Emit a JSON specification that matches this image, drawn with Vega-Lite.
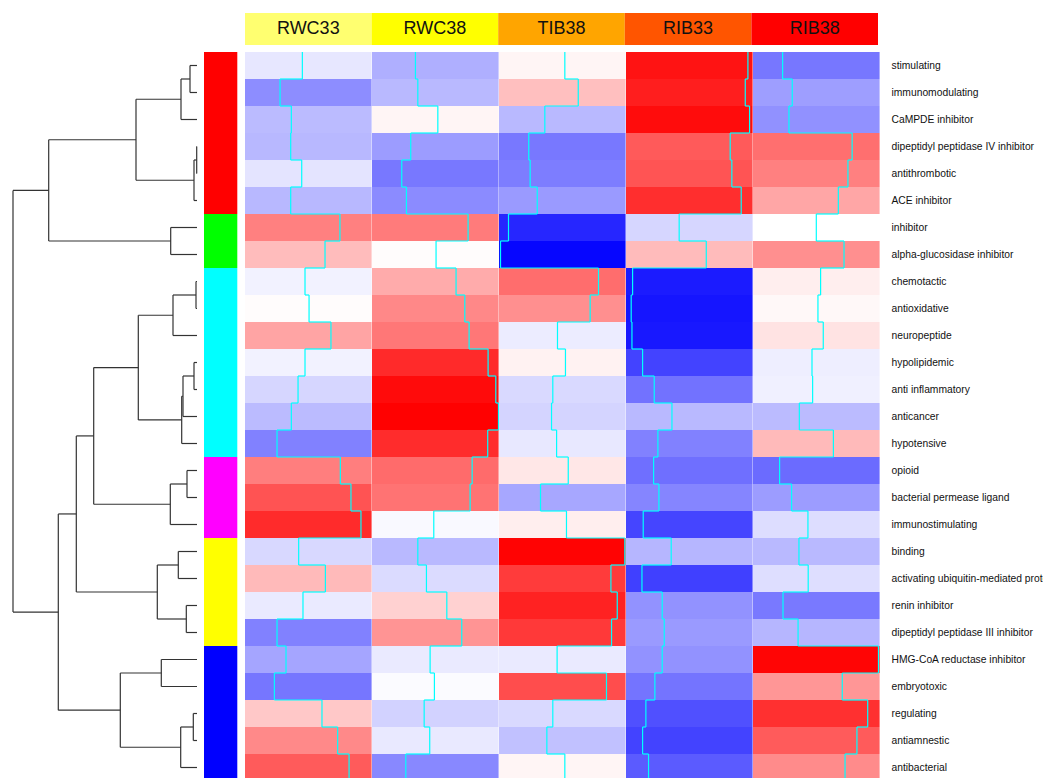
{
  "$schema": "https://vega.github.io/schema/vega-lite/v6.json",
  "padding": {"left": 0, "top": 13, "right": 0, "bottom": 0},
  "config": {"view": {"stroke": null}, "font": "Liberation Sans"},
  "datasets": {
    "peps": [
      {"r": 0, "p": "stimulating", "g": "C1", "RWC33": 0.453, "RWC38": 0.343, "TIB38": 0.52, "RIB33": 0.963, "RIB38": 0.234},
      {"r": 1, "p": "immunomodulating", "g": "C1", "RWC33": 0.277, "RWC38": 0.362, "TIB38": 0.626, "RIB33": 0.942, "RIB38": 0.31},
      {"r": 2, "p": "CaMPDE inhibitor", "g": "C1", "RWC33": 0.366, "RWC38": 0.52, "TIB38": 0.362, "RIB33": 0.976, "RIB38": 0.284},
      {"r": 3, "p": "dipeptidyl peptidase IV inhibitor", "g": "C1", "RWC33": 0.361, "RWC38": 0.306, "TIB38": 0.235, "RIB33": 0.823, "RIB38": 0.783},
      {"r": 4, "p": "antithrombotic", "g": "C1", "RWC33": 0.448, "RWC38": 0.235, "TIB38": 0.246, "RIB33": 0.836, "RIB38": 0.75},
      {"r": 5, "p": "ACE inhibitor", "g": "C1", "RWC33": 0.361, "RWC38": 0.272, "TIB38": 0.302, "RIB33": 0.91, "RIB38": 0.674},
      {"r": 6, "p": "inhibitor", "g": "C2", "RWC33": 0.75, "RWC38": 0.759, "TIB38": 0.075, "RIB33": 0.42, "RIB38": 0.5},
      {"r": 7, "p": "alpha-glucosidase inhibitor", "g": "C2", "RWC33": 0.632, "RWC38": 0.506, "TIB38": 0.012, "RIB33": 0.634, "RIB38": 0.719},
      {"r": 8, "p": "chemotactic", "g": "C3", "RWC33": 0.474, "RWC38": 0.664, "TIB38": 0.786, "RIB33": 0.052, "RIB38": 0.534},
      {"r": 9, "p": "antioxidative", "g": "C3", "RWC33": 0.506, "RWC38": 0.733, "TIB38": 0.72, "RIB33": 0.041, "RIB38": 0.513},
      {"r": 10, "p": "neuropeptide", "g": "C3", "RWC33": 0.679, "RWC38": 0.767, "TIB38": 0.462, "RIB33": 0.047, "RIB38": 0.555},
      {"r": 11, "p": "hypolipidemic", "g": "C3", "RWC33": 0.474, "RWC38": 0.917, "TIB38": 0.525, "RIB33": 0.131, "RIB38": 0.466},
      {"r": 12, "p": "anti inflammatory", "g": "C3", "RWC33": 0.419, "RWC38": 0.978, "TIB38": 0.425, "RIB33": 0.223, "RIB38": 0.471},
      {"r": 13, "p": "anticancer", "g": "C3", "RWC33": 0.366, "RWC38": 0.999, "TIB38": 0.415, "RIB33": 0.363, "RIB38": 0.366},
      {"r": 14, "p": "hypotensive", "g": "C3", "RWC33": 0.253, "RWC38": 0.914, "TIB38": 0.455, "RIB33": 0.252, "RIB38": 0.635},
      {"r": 15, "p": "opioid", "g": "C4", "RWC33": 0.753, "RWC38": 0.791, "TIB38": 0.547, "RIB33": 0.218, "RIB38": 0.21},
      {"r": 16, "p": "bacterial permease ligand", "g": "C4", "RWC33": 0.837, "RWC38": 0.775, "TIB38": 0.328, "RIB33": 0.26, "RIB38": 0.305},
      {"r": 17, "p": "immunostimulating", "g": "C4", "RWC33": 0.916, "RWC38": 0.488, "TIB38": 0.533, "RIB33": 0.136, "RIB38": 0.434},
      {"r": 18, "p": "binding", "g": "C5", "RWC33": 0.424, "RWC38": 0.362, "TIB38": 0.994, "RIB33": 0.357, "RIB38": 0.363},
      {"r": 19, "p": "activating ubiquitin-mediated proteolysis", "g": "C5", "RWC33": 0.635, "RWC38": 0.43, "TIB38": 0.884, "RIB33": 0.126, "RIB38": 0.436},
      {"r": 20, "p": "renin inhibitor", "g": "C5", "RWC33": 0.458, "RWC38": 0.591, "TIB38": 0.934, "RIB33": 0.286, "RIB38": 0.237},
      {"r": 21, "p": "dipeptidyl peptidase III inhibitor", "g": "C5", "RWC33": 0.253, "RWC38": 0.709, "TIB38": 0.889, "RIB33": 0.302, "RIB38": 0.356},
      {"r": 22, "p": "HMG-CoA reductase inhibitor", "g": "C6", "RWC33": 0.324, "RWC38": 0.459, "TIB38": 0.459, "RIB33": 0.286, "RIB38": 0.991},
      {"r": 23, "p": "embryotoxic", "g": "C6", "RWC33": 0.232, "RWC38": 0.493, "TIB38": 0.849, "RIB33": 0.228, "RIB38": 0.705},
      {"r": 24, "p": "regulating", "g": "C6", "RWC33": 0.608, "RWC38": 0.412, "TIB38": 0.425, "RIB33": 0.157, "RIB38": 0.906},
      {"r": 25, "p": "antiamnestic", "g": "C6", "RWC33": 0.732, "RWC38": 0.456, "TIB38": 0.378, "RIB33": 0.131, "RIB38": 0.821},
      {"r": 26, "p": "antibacterial", "g": "C6", "RWC33": 0.822, "RWC38": 0.267, "TIB38": 0.52, "RIB33": 0.178, "RIB38": 0.727}
    ],
    "dendro": [
      {"h": 0.7, "y1": 0, "y2": 1, "h1": 0, "h2": 0},
      {"h": 1.6, "y1": 0.5, "y2": 2, "h1": 0.7, "h2": 0},
      {"h": 0.03, "y1": 3, "y2": 4, "h1": 0, "h2": 0},
      {"h": 0.3, "y1": 3.5, "y2": 5, "h1": 0.03, "h2": 0},
      {"h": 6.1, "y1": 1.25, "y2": 4.25, "h1": 1.6, "h2": 0.3},
      {"h": 2.63, "y1": 6, "y2": 7, "h1": 0, "h2": 0},
      {"h": 14.83, "y1": 2.75, "y2": 6.5, "h1": 6.1, "h2": 2.63},
      {"h": 0.1, "y1": 8, "y2": 9, "h1": 0, "h2": 0},
      {"h": 2.4, "y1": 8.5, "y2": 10, "h1": 0.1, "h2": 0},
      {"h": 0.3, "y1": 11, "y2": 12, "h1": 0, "h2": 0},
      {"h": 1.4, "y1": 11.5, "y2": 13, "h1": 0.3, "h2": 0},
      {"h": 1.53, "y1": 12.25, "y2": 14, "h1": 1.4, "h2": 0},
      {"h": 5.87, "y1": 9.25, "y2": 13.125, "h1": 2.4, "h2": 1.53},
      {"h": 1.0, "y1": 15, "y2": 16, "h1": 0, "h2": 0},
      {"h": 2.67, "y1": 15.5, "y2": 17, "h1": 1.0, "h2": 0},
      {"h": 10.33, "y1": 11.1875, "y2": 16.25, "h1": 5.87, "h2": 2.67},
      {"h": 1.87, "y1": 18, "y2": 19, "h1": 0, "h2": 0},
      {"h": 1.07, "y1": 20, "y2": 21, "h1": 0, "h2": 0},
      {"h": 3.97, "y1": 18.5, "y2": 20.5, "h1": 1.87, "h2": 1.07},
      {"h": 12.07, "y1": 13.71875, "y2": 19.5, "h1": 10.33, "h2": 3.97},
      {"h": 3.57, "y1": 22, "y2": 23, "h1": 0, "h2": 0},
      {"h": 0.37, "y1": 24, "y2": 25, "h1": 0, "h2": 0},
      {"h": 1.63, "y1": 24.5, "y2": 26, "h1": 0.37, "h2": 0},
      {"h": 7.67, "y1": 22.5, "y2": 25.25, "h1": 3.57, "h2": 1.63},
      {"h": 13.87, "y1": 16.609, "y2": 23.875, "h1": 12.07, "h2": 7.67},
      {"h": 18.4, "y1": 4.625, "y2": 20.242, "h1": 14.83, "h2": 13.87}
    ],
    "samples": [
      {"s": "RWC33"}, {"s": "RWC38"}, {"s": "TIB38"}, {"s": "RIB33"}, {"s": "RIB38"}
    ]
  },
  "columns": 3,
  "bounds": "flush",
  "spacing": {"row": 7, "column": 7},
  "concat": [
    {"width": 197, "height": 32, "data": {"values": []}, "mark": "rect"},
    {"width": 33.3, "height": 32, "data": {"values": []}, "mark": "rect"},
    {
      "width": 633, "height": 32,
      "data": {"name": "samples"},
      "layer": [
        {
          "mark": {"type": "rect"},
          "encoding": {
            "x": {"field": "s", "type": "nominal", "sort": ["RWC33", "RWC38", "TIB38", "RIB33", "RIB38"], "scale": {"paddingInner": 0, "paddingOuter": 0}, "axis": null},
            "y": {"datum": 0, "type": "quantitative", "scale": {"domain": [0, 1], "nice": false}, "axis": null},
            "y2": {"datum": 1},
            "color": {"field": "s", "type": "nominal", "scale": {"domain": ["RWC33", "RWC38", "TIB38", "RIB33", "RIB38"], "range": ["#FFFF70", "#FFFF00", "#FFA500", "#FF5500", "#FF0000"]}, "legend": null}
          }
        },
        {
          "mark": {"type": "text", "fontSize": 18, "color": "#111111", "baseline": "middle"},
          "encoding": {
            "x": {"field": "s", "type": "nominal", "sort": ["RWC33", "RWC38", "TIB38", "RIB33", "RIB38"]},
            "y": {"datum": 0.5, "type": "quantitative"},
            "text": {"field": "s"}
          }
        }
      ]
    },
    {
      "width": 197, "height": 729,
      "data": {"name": "dendro"},
      "layer": [
        {
          "mark": {"type": "rule", "color": "#333333", "strokeWidth": 1.2},
          "encoding": {
            "x": {"field": "h", "type": "quantitative", "scale": {"domain": [19.7, 0], "nice": false, "zero": false}, "axis": null},
            "y": {"field": "y1", "type": "quantitative", "scale": {"domain": [-0.5, 26.5], "nice": false, "zero": false, "reverse": true}, "axis": null},
            "y2": {"field": "y2"}
          }
        },
        {
          "mark": {"type": "rule", "color": "#333333", "strokeWidth": 1.2},
          "encoding": {
            "x": {"field": "h", "type": "quantitative"},
            "x2": {"field": "h1"},
            "y": {"field": "y1", "type": "quantitative"}
          }
        },
        {
          "mark": {"type": "rule", "color": "#333333", "strokeWidth": 1.2},
          "encoding": {
            "x": {"field": "h", "type": "quantitative"},
            "x2": {"field": "h2"},
            "y": {"field": "y2", "type": "quantitative"}
          }
        }
      ]
    },
    {
      "width": 33.3, "height": 729,
      "data": {"name": "peps"},
      "mark": {"type": "rect"},
      "encoding": {
        "x": {"datum": 0, "type": "quantitative", "scale": {"domain": [0, 1], "nice": false}, "axis": null},
        "x2": {"datum": 1},
        "y": {"field": "p", "type": "nominal", "sort": {"field": "r", "op": "min"}, "scale": {"paddingInner": 0, "paddingOuter": 0}, "axis": null},
        "color": {"field": "g", "type": "nominal", "scale": {"domain": ["C1", "C2", "C3", "C4", "C5", "C6"], "range": ["#FF0000", "#00FF00", "#00FFFF", "#FF00FF", "#FFFF00", "#0000FF"]}, "legend": null}
      }
    },
    {
      "data": {"name": "peps"},
      "transform": [
        {"fold": ["RWC33", "RWC38", "TIB38", "RIB33", "RIB38"], "as": ["s", "v"]},
        {"window": [{"op": "lead", "field": "v", "as": "vNext"}], "groupby": ["s"], "sort": [{"field": "r"}]}
      ],
      "facet": {
        "column": {"field": "s", "type": "nominal", "sort": ["RWC33", "RWC38", "TIB38", "RIB33", "RIB38"], "header": {"labels": false, "title": null}}
      },
      "spacing": 0,
      "bounds": "flush",
      "spec": {
        "width": 126.6, "height": 729,
        "layer": [
          {
            "mark": {"type": "rect"},
            "encoding": {
              "x": {"datum": 0, "type": "quantitative", "scale": {"domain": [0, 1], "nice": false}, "axis": null},
              "x2": {"datum": 1},
              "y": {"field": "p", "type": "nominal", "sort": {"field": "r", "op": "min"}, "scale": {"paddingInner": 0, "paddingOuter": 0},
                    "axis": {"orient": "right", "title": null, "ticks": false, "domain": false, "labelPadding": 11, "labelFontSize": 10.3, "labelColor": "#111111", "labelLimit": 400}},
              "color": {"field": "v", "type": "quantitative", "scale": {"domain": [0, 0.5, 1], "range": ["#0000FF", "#FFFFFF", "#FF0000"], "interpolate": "rgb"}, "legend": null}
            }
          },
          {
            "mark": {"type": "rect", "filled": false, "color": "#00FFFF", "strokeWidth": 1.2},
            "encoding": {
              "x": {"field": "v", "type": "quantitative"},
              "x2": {"field": "v"},
              "y": {"field": "p", "type": "nominal", "sort": {"field": "r", "op": "min"}}
            }
          },
          {
            "transform": [{"filter": "isValid(datum.vNext)"}],
            "mark": {"type": "rule", "color": "#00FFFF", "strokeWidth": 1.2},
            "encoding": {
              "x": {"field": "v", "type": "quantitative"},
              "x2": {"field": "vNext"},
              "y": {"field": "p", "type": "nominal", "sort": {"field": "r", "op": "min"}, "bandPosition": 1}
            }
          }
        ]
      }
    }
  ]
}
